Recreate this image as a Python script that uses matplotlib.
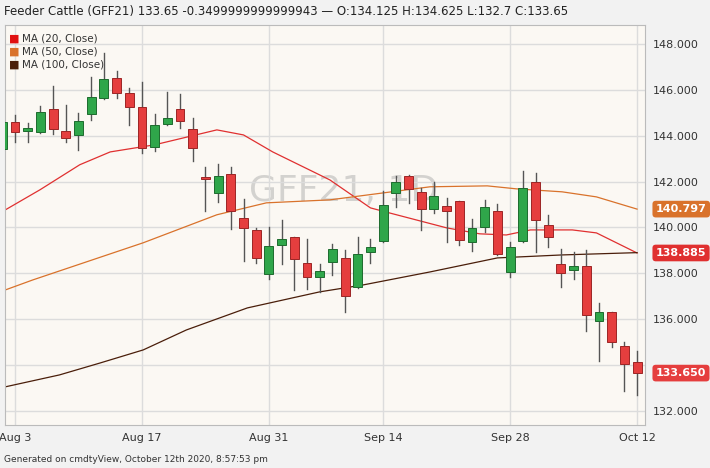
import matplotlib.pyplot as plt
from matplotlib.patches import Rectangle

# Trading-day index 0 = Aug 3 2020 (Jul 31 is -1)
days = list(range(-1, 50))
opens = [143.4, 144.60, 144.20, 144.16, 145.17, 144.20, 144.03, 144.95, 145.65, 146.52, 145.86,
         145.25, 143.51, 144.51, 145.17, 144.30, 142.20, 141.50, 142.33, 140.42, 139.89,
         137.97, 139.24, 139.59, 138.45, 137.84, 138.50, 138.67, 137.41, 138.93, 139.41,
         141.50, 142.25, 141.55, 140.81, 140.94, 141.16, 139.37, 140.02, 140.72, 138.06,
         139.41, 141.98, 140.11, 138.41, 138.15, 138.32, 135.93, 136.32, 134.84, 134.125]
highs = [144.8, 144.90, 144.56, 145.30, 146.17, 145.34, 144.99, 146.56, 147.60, 146.82, 146.08,
         146.34, 144.95, 145.91, 145.82, 144.77, 142.64, 142.77, 142.64, 141.24, 139.98,
         140.02, 140.33, 139.60, 139.50, 138.41, 139.28, 139.02, 139.59, 139.50, 141.59,
         142.25, 142.29, 141.72, 141.98, 141.29, 141.16, 140.37, 141.20, 141.03, 139.37,
         142.46, 142.38, 140.55, 139.06, 138.93, 139.02, 136.71, 136.32, 135.01, 134.625]
lows = [143.3, 143.73, 143.73, 144.10, 144.08, 143.73, 143.38, 144.69, 145.60, 145.65, 144.47,
        143.25, 143.34, 144.47, 144.34, 142.90, 140.72, 141.11, 139.94, 138.54, 138.45,
        137.76, 138.41, 137.28, 137.32, 137.19, 137.93, 136.32, 137.36, 138.45, 139.37,
        140.89, 141.07, 139.89, 140.63, 139.37, 139.24, 138.98, 139.80, 138.80, 137.84,
        139.37, 138.93, 139.15, 137.41, 137.76, 135.49, 134.18, 134.79, 132.87, 132.70]
closes = [144.6, 144.16, 144.34, 145.04, 144.30, 143.90, 144.64, 145.69, 146.47, 145.86, 145.25,
          143.47, 144.47, 144.77, 144.64, 143.47, 142.12, 142.25, 140.72, 139.98, 138.67,
          139.19, 139.50, 138.63, 137.84, 138.10, 139.06, 137.01, 138.85, 139.15, 140.98,
          141.98, 141.68, 140.81, 141.37, 140.72, 139.46, 139.98, 140.89, 138.85, 139.15,
          141.72, 140.33, 139.59, 138.02, 138.32, 136.19, 136.32, 135.01, 134.05, 133.65]

ma20_x = [-1.18, 1.97, 5.1, 7.5, 11.0, 15.9, 18.0, 20.3, 24.8, 28.0, 29.5, 34.0, 36.6, 38.7, 40.6, 43.9, 45.8, 49.0]
ma20_y = [140.63, 141.64, 142.73, 143.29, 143.6, 144.25, 144.03, 143.29, 142.07, 140.85, 140.63,
          139.98, 139.72, 139.67, 139.89, 139.89, 139.76, 138.885]
ma50_x = [-1.18, 1.4, 10.1, 15.9, 19.8, 24.8, 32.7, 37.2, 39.5, 43.1, 45.8, 49.0]
ma50_y = [137.19, 137.71, 139.33, 140.55, 141.07, 141.2, 141.77, 141.81, 141.68, 141.55, 141.33, 140.797]
ma100_x = [-1.18, 3.5, 6.7, 10.1, 13.5, 18.3, 24.0, 27.4, 32.7, 38.0, 43.1, 49.0]
ma100_y = [133.0, 133.57, 134.09, 134.66, 135.53, 136.49, 137.19, 137.49, 138.06, 138.67, 138.8, 138.9]

tick_pos = [0, 10, 20, 29, 39, 49]
tick_labels = ["Aug 3", "Aug 17", "Aug 31", "Sep 14", "Sep 28", "Oct 12"]
y_ticks = [132, 134, 136, 138, 140, 142, 144, 146, 148]

GREEN, RED = "#2fa64a", "#e53e3e"
C20, C50, C100 = "#e03030", "#d9722b", "#4a1e0a"

fig = plt.figure(figsize=(7.10, 4.68), dpi=100)
fig.patch.set_facecolor("#f2f2f2")
ax = fig.add_axes([0.007, 0.092, 0.901, 0.855])
ax.set_facecolor("#fbf8f3")

for d, o, h, l, c in zip(days, opens, highs, lows, closes):
    up = c >= o
    ax.plot([d, d], [l, h], color="#555555", lw=1, zorder=2)
    ax.add_patch(Rectangle((d - 0.35, min(o, c)), 0.7, max(abs(c - o), 0.05),
                           facecolor=GREEN if up else RED,
                           edgecolor="#1d6b2e" if up else "#9c2525", lw=0.7, zorder=3))

ax.plot(ma20_x, ma20_y, color=C20, lw=0.9, zorder=1)
ax.plot(ma50_x, ma50_y, color=C50, lw=0.9, zorder=1)
ax.plot(ma100_x, ma100_y, color=C100, lw=0.9, zorder=1)

ax.set_xlim(-0.79, 49.6)
ax.set_ylim(131.39, 148.83)
ax.set_xticks(tick_pos)
ax.set_xticklabels(tick_labels, fontsize=8, color="#333333")
ax.yaxis.tick_right()
ax.set_yticks(y_ticks)
ax.set_yticklabels([f"{v:.3f}" for v in y_ticks], fontsize=8, color="#333333")
ax.tick_params(length=0, pad=6)
ax.grid(True, color="#dcdcdc", lw=1)
ax.set_axisbelow(True)
for s in ax.spines.values():
    s.set_color("#bbbbbb")

ax.text(0.53, 0.585, "GFF21, 1D", transform=ax.transAxes, fontsize=26,
        color="#999999", alpha=0.4, ha="center", va="center", zorder=0)

# last-value tags on the right axis (they cover the tick label behind, as in the source)
ax.set_yticklabels([f"{v:.3f}" if v != 134 else "" for v in y_ticks])
for val, col in [(140.797, C50), (138.885, C20), (133.65, RED)]:
    ax.annotate(f"{val:.3f}", xy=(1.0, val), xycoords=("axes fraction", "data"),
                xytext=(8, 0), textcoords="offset points", ha="left", va="center",
                fontsize=8, fontweight="bold", color="white", zorder=10,
                bbox=dict(boxstyle="round,pad=0.3", fc=col, ec="none"))

for i, (name, col) in enumerate([("MA (20, Close)", "#e01010"), ("MA (50, Close)", C50),
                                 ("MA (100, Close)", C100)]):
    y = 0.918 - i * 0.028
    fig.text(0.012, y, "\u25A0", color=col, fontsize=8, va="center")
    fig.text(0.031, y, name, color="#333333", fontsize=7.5, va="center")

fig.text(0.005, 0.975, "Feeder Cattle (GFF21) 133.65 -0.3499999999999943 \u2014 O:134.125 H:134.625 L:132.7 C:133.65",
         fontsize=8.5, color="#222222", va="center")
fig.text(0.005, 0.018, "Generated on cmdtyView, October 12th 2020, 8:57:53 pm",
         fontsize=6.5, color="#333333", va="center")

fig.savefig("out.png", dpi=100, facecolor=fig.get_facecolor())
